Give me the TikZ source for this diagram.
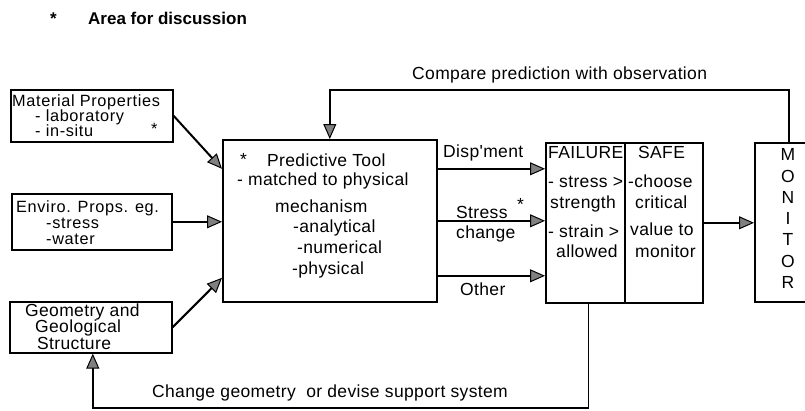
\documentclass[tikz,border=0pt]{standalone}
\usepackage{fontspec}
\setmainfont{Liberation Sans}
\newfontfamily\spfont[LetterSpace=2]{Liberation Sans}
\newfontfamily\spfontb[LetterSpace=4]{Liberation Sans}
\usetikzlibrary{arrows.meta}
\begin{document}
\begin{tikzpicture}[x=1pt,y=-1pt,
  box/.style={draw, line width=1.6pt, inner sep=0pt, anchor=north west},
  txt/.style={inner sep=0pt, anchor=base west, font=\spfont\fontsize{17.5}{19}\selectfont},
  stxt/.style={txt, font=\spfontb\fontsize{16.3}{17}\selectfont},
  ctxt/.style={txt, anchor=base},
  arr/.style={line width=2pt, -{Triangle[length=15pt,width=13pt,fill=black!50,line width=1pt]}},
  fb/.style={line width=1.6pt}
]
\clip (0,0) rectangle (805,410);
% title
\node[txt, font=\fontsize{17}{19}\selectfont\bfseries] (star0) at (50,24.5) {*};
\node[txt, font=\fontsize{17}{19}\selectfont\bfseries] (title) at (88,24.5) {Area for discussion};
% boxes
\node[box, minimum width=162pt, minimum height=52pt] (mat) at (10,89) {};
\node[box, minimum width=160pt, minimum height=56pt] (env) at (11,193) {};
\node[box, minimum width=162pt, minimum height=51pt] (geo) at (9,301) {};
\node[box, minimum width=214pt, minimum height=162pt] (pred) at (222,139) {};
\node[box, minimum width=79pt, minimum height=160pt] (fail) at (545,142) {};
\node[box, minimum width=78pt, minimum height=160pt] (safe) at (624,142) {};
\node[box, minimum width=68pt, minimum height=159pt] (mon) at (754,142) {};
% material
\node[stxt] (m1) at (12,106) {Material Properties};
\node[stxt] (m2) at (35,121) {- laboratory};
\node[stxt] (m3) at (35,136) {- in-situ};
\node[stxt] (m4) at (151,134) {*};
% enviro
\node[stxt] (e1) at (16,212.5) {Enviro. Props. eg.};
\node[stxt] (e2) at (46,228.5) {-stress};
\node[stxt] (e3) at (46,244.5) {-water};
% geometry
\node[txt] (g1) at (25,316) {Geometry and};
\node[txt] (g2) at (35,332.5) {Geological};
\node[txt] (g3) at (37,349) {Structure};
% predictive
\node[txt] (p0) at (240,165) {*};
\node[txt] (p1) at (267,166.5) {Predictive Tool};
\node[txt] (p2) at (237,185) {- matched to physical};
\node[txt] (p3) at (275,212) {mechanism};
\node[txt] (p4) at (293,232) {-analytical};
\node[txt] (p5) at (297,253) {-numerical};
\node[txt] (p6) at (292,274) {-physical};
% output labels
\node[txt] (l1) at (443,157) {Disp'ment};
\node[txt] (l2) at (456,218) {Stress};
\node[txt] (l2s) at (517,210) {*};
\node[txt] (l3) at (456,238) {change};
\node[txt] (l4) at (460,295) {Other};
% failure
\node[txt] (f1) at (548,158.5) {FAILURE};
\node[txt] (f2) at (548,187) {- stress >};
\node[txt] (f3) at (550,208) {strength};
\node[txt] (f4) at (548,237) {- strain >};
\node[txt] (f5) at (556,257) {allowed};
% safe
\node[txt] (s1) at (638,158.5) {SAFE};
\node[txt] (s2) at (628,187) {-choose};
\node[txt] (s3) at (635,208) {critical};
\node[txt] (s4) at (630,235) {value to};
\node[txt] (s5) at (635,257) {monitor};
% monitor
\node[ctxt] (o1) at (788,160) {M};
\node[ctxt] (o2) at (788,182) {O};
\node[ctxt] (o3) at (788,203) {N};
\node[ctxt] (o4) at (788,224) {I};
\node[ctxt] (o5) at (788,245) {T};
\node[ctxt] (o6) at (788,267) {O};
\node[ctxt] (o7) at (788,288) {R};
% feedback labels
\node[txt] (c1) at (412,79.5) {Compare prediction with observation};
\node[txt] (c2) at (152,397) {Change geometry\ \ or devise support system};
% arrows in
\draw[arr] (mat.east) -- ([yshift=52pt]pred.west);
\draw[arr] (env.east) -- (env.east -| pred.west);
\draw[arr] (geo.east) -- ([yshift=-57pt]pred.west);
% outputs
\draw[arr] ([yshift=52pt]pred.east) -- ([yshift=52pt]pred.east -| fail.west);
\draw[arr] (pred.east) -- (pred.east -| fail.west);
\draw[arr] ([yshift=-55pt]pred.east) -- ([yshift=-55pt]pred.east -| fail.west);
\draw[arr] (safe.east) -- (safe.east -| mon.west);
% feedback
\draw[arr,fb] (mon.north) -- (mon.north |- 0,90) -| (pred.north);
\draw[arr,fb] ([xshift=3pt]fail.south) -- ([xshift=3pt]fail.south |- 0,408) -| ([xshift=2pt]geo.south);
\end{tikzpicture}
\end{document}
